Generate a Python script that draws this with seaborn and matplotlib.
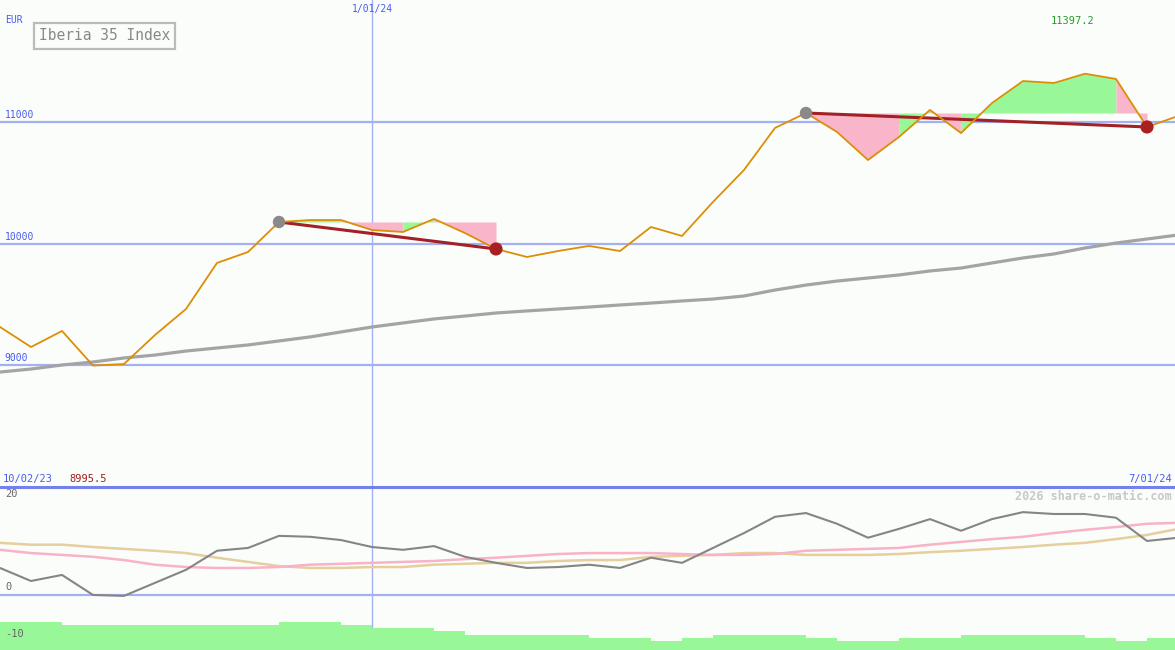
import numpy as np
import pandas as pd
import matplotlib
matplotlib.use('Agg')
import matplotlib.pyplot as plt
from matplotlib.lines import Line2D
import seaborn as sns

# weekly data, 10/02/23 .. 7/01/24
weeks = list(range(39))
close = [9313, 9148, 9280, 8995.5, 9008, 9247, 9461, 9840, 9930, 10177,
         10193, 10193, 10111, 10095, 10202, 10086, 9955, 9889, 9938, 9980,
         9938, 10136, 10062, 10342, 10605, 10951, 11074, 10918, 10687, 10877,
         11099, 10909, 11156, 11337, 11321, 11397.2, 11354, 10959, 11049]
moving_avg = [8942, 8967, 9000, 9025, 9058, 9082, 9115, 9140, 9165, 9198,
              9231, 9272, 9313, 9346, 9379, 9403, 9428, 9445, 9461, 9477,
              9494, 9510, 9527, 9543, 9568, 9617, 9658, 9691, 9716, 9741,
              9774, 9798, 9840, 9881, 9914, 9963, 10004, 10037, 10070]
momentum = [5.8, 3.0, 4.3, 0.0, -0.2, 2.6, 5.4, 9.5, 10.1, 12.7,
            12.5, 11.8, 10.3, 9.7, 10.5, 8.2, 6.9, 5.8, 6.0, 6.5,
            5.8, 8.0, 6.9, 10.1, 13.3, 16.8, 17.6, 15.3, 12.3, 14.2,
            16.3, 13.8, 16.3, 17.8, 17.4, 17.4, 16.6, 11.6, 12.3]
signal_pink = [9.7, 9.0, 8.6, 8.2, 7.5, 6.5, 6.0, 5.8, 5.8, 6.0,
               6.5, 6.7, 6.9, 7.1, 7.3, 7.7, 8.0, 8.4, 8.8, 9.0,
               9.0, 9.0, 8.8, 8.6, 8.6, 8.8, 9.5, 9.7, 9.9, 10.1,
               10.8, 11.4, 12.0, 12.5, 13.3, 14.0, 14.6, 15.3, 15.5]
signal_tan = [11.2, 10.8, 10.8, 10.3, 9.9, 9.5, 9.0, 8.0, 7.1, 6.2,
              5.8, 5.8, 6.0, 6.0, 6.5, 6.7, 6.9, 6.9, 7.3, 7.5,
              7.5, 8.2, 8.4, 8.6, 9.0, 9.0, 8.6, 8.6, 8.6, 8.8,
              9.2, 9.5, 9.9, 10.3, 10.8, 11.2, 12.0, 12.9, 14.2]
bar_tops = [-5.8, -5.8, -6.45, -6.45, -6.45, -6.45, -6.45, -6.45, -6.45, -5.8,
            -5.8, -6.45, -7.1, -7.1, -7.75, -8.6, -8.6, -8.6, -8.6, -9.25,
            -9.25, -9.9, -9.25, -8.6, -8.6, -8.6, -9.25, -9.9, -9.9, -9.25,
            -9.25, -8.6, -8.6, -8.6, -8.6, -9.25, -9.9, -9.25]
peaks = [9, 26]
troughs = [16, 37]
# colour of the shaded band per week segment (g = up, p = down)
seg_colour = {9: 'g', 10: 'g', 11: 'p', 12: 'p', 13: 'g', 14: 'p', 15: 'p',
              26: 'p', 27: 'p', 28: 'p', 29: 'g', 30: 'p', 31: 'g', 32: 'g',
              33: 'g', 34: 'g', 35: 'g', 36: 'p'}
date_labels = ['10/02/23', '1/01/24', '7/01/24']
year_start_week = 12

df = pd.DataFrame({'week': weeks, 'close': close, 'ma': moving_avg,
                   'mom': momentum, 'pink': signal_pink, 'tan': signal_tan})

sns.set_theme(style='white')
plt.rcParams['font.family'] = ['DejaVu Sans Mono']

bg = '#fbfdfb'
grid_blue = '#a3b1f2'
text_blue = '#4a5cf0'

fig = plt.figure(figsize=(11.75, 6.5), dpi=100, facecolor=bg)
ax = fig.add_axes([0, 163 / 650, 1, 487 / 650])
ax2 = fig.add_axes([0, 0, 1, 163 / 650])
x_max = 1175 / 31
for a in (ax, ax2):
    a.set_facecolor(bg)
    a.set_xlim(0, x_max)
    for s in a.spines.values():
        s.set_visible(False)
    a.set_xticks([])
    a.set_yticks([])
ax.set_ylim(7996, 12004)
ax2.set_ylim(-11.83, 23.2)

# ---- price panel
for lvl in (9000, 10000, 11000):
    ax.axhline(lvl, color=grid_blue, lw=1.6, zorder=1)
    ax.text(0.004, lvl + 15, str(lvl), transform=ax.get_yaxis_transform(),
            color=text_blue, fontsize=7, va='bottom', ha='left')
ax.axvline(year_start_week, color=grid_blue, lw=1, zorder=1)
ax2.axvline(year_start_week, color=grid_blue, lw=1, zorder=1)

# shaded bands: merge consecutive segments of the same colour
runs = []
for i in sorted(seg_colour):
    if runs and runs[-1][1] == i and runs[-1][2] == seg_colour[i]:
        runs[-1][1] = i + 1
    else:
        runs.append([i, i + 1, seg_colour[i]])
for start, end, c in runs:
    lvl = close[peaks[0]] if start < peaks[1] else close[peaks[1]]
    xs = weeks[start:end + 1]
    ax.fill_between(xs, close[start:end + 1], lvl,
                    color='#98f898' if c == 'g' else '#f9b6cb', lw=0, zorder=2)

sns.lineplot(data=df, x='week', y='ma', ax=ax, color='#a4a4a4', lw=2.3,
             estimator=None, zorder=3)
for p, t in zip(peaks, troughs):
    ax.plot([p, t], [close[p], close[t]], color='#a32025', lw=2.2, zorder=4)
sns.lineplot(data=df, x='week', y='close', ax=ax, color='#dc8e06', lw=1.3,
             estimator=None, zorder=5)
sns.scatterplot(x=peaks, y=[close[p] for p in peaks], ax=ax, color='#8a8a8a',
                s=80, edgecolor='none', zorder=6)
sns.scatterplot(x=troughs, y=[close[t] for t in troughs], ax=ax,
                color='#a82020', s=90, edgecolor='none', zorder=6)

ax.text(5 / 1175, 1 - 20 / 487, 'EUR', transform=ax.transAxes, color=text_blue,
        fontsize=7, va='center')
ax.text(39 / 1175, 1 - 36 / 487, 'Iberia 35 Index', transform=ax.transAxes,
        color='#888888', fontsize=10.5, va='center',
        bbox=dict(boxstyle='square,pad=0.35', fc=bg, ec='#bbbbbb', lw=1.6))
ax.text(year_start_week, 1 - 9 / 487, date_labels[1],
        transform=ax.get_xaxis_transform(), color=text_blue, fontsize=7,
        ha='center', va='center')
ax.text(1073 / 1175, 1 - 21 / 487, f'{max(close)}', transform=ax.transAxes,
        color='#2a9a2a', fontsize=7.5, ha='center', va='center')
ax.text(3 / 1175, 8 / 487, date_labels[0], transform=ax.transAxes,
        color=text_blue, fontsize=7.5, va='center')
ax.text(69 / 1175, 8 / 487, f'{min(close)}', transform=ax.transAxes,
        color='#a02020', fontsize=7.5, va='center')
ax.text(1172 / 1175, 8 / 487, date_labels[2], transform=ax.transAxes,
        color=text_blue, fontsize=7.5, va='center', ha='right')

# ---- indicator panel
ax2.axhline(0, color=grid_blue, lw=1.6, zorder=1)
ax2.bar(weeks[:-1], np.array(bar_tops) + 11.83, bottom=-11.83, width=1,
        align='edge', color='#98f898', lw=0, zorder=2)
sns.lineplot(data=df, x='week', y='tan', ax=ax2, color='#e4cf9d', lw=1.8,
             estimator=None, zorder=3)
sns.lineplot(data=df, x='week', y='pink', ax=ax2, color='#f9b3c7', lw=1.8,
             estimator=None, zorder=3)
sns.lineplot(data=df, x='week', y='mom', ax=ax2, color='#858585', lw=1.5,
             estimator=None, zorder=4)
for v, lab in ((20, '20'), (0, '0'), (-10, '-10')):
    ax2.text(5 / 1175, v + 0.6, lab, transform=ax2.get_yaxis_transform(),
             color='#666666', fontsize=7.5, va='bottom')
ax2.text(1172 / 1175, 1 - 9 / 163, '2026 share-o-matic.com',
         transform=ax2.transAxes, color='#c8c8c8', fontsize=8.5,
         fontweight='bold', ha='right', va='center')
ax.set_xlabel('')
ax.set_ylabel('')
ax2.set_xlabel('')
ax2.set_ylabel('')

# panel separator
fig.add_artist(Line2D([0, 1], [163 / 650, 163 / 650], transform=fig.transFigure,
                      color='#7480ec', lw=2.2))

fig.savefig('out.png', dpi=100, facecolor=bg)
